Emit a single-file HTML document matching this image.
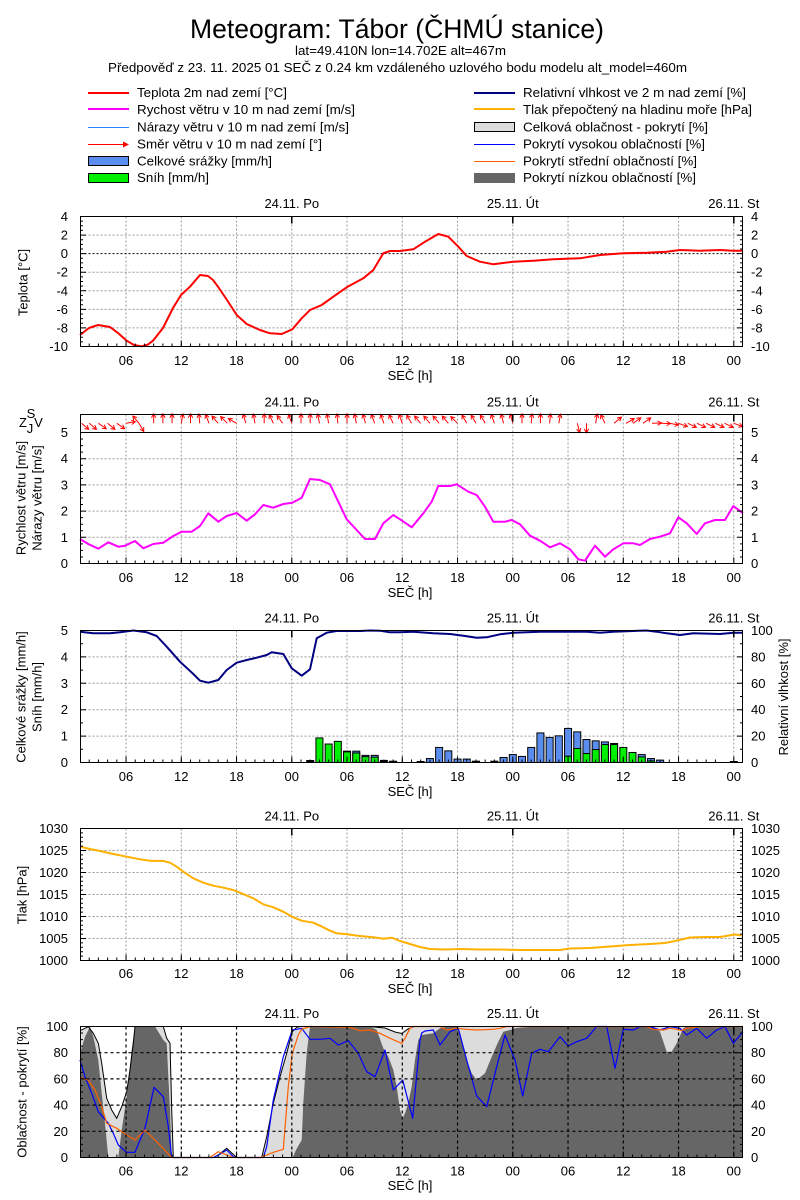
<!DOCTYPE html>
<html><head><meta charset="utf-8">
<style>
html,body{margin:0;padding:0;background:#fff}
svg{display:block}
text{font-family:"Liberation Sans",Arial,sans-serif;font-size:13px;fill:#000}
</style></head>
<body>
<svg width="800" height="1200" viewBox="0 0 800 1200" xmlns="http://www.w3.org/2000/svg" xmlns:xlink="http://www.w3.org/1999/xlink">
<defs>
<path id="xt" d="M89.21 0v-3m9.2083 3v-3m9.2083 3v-3m9.2083 3v-3m9.2083 3v-3m9.2083 3v-3m9.2083 3v-3m9.2083 3v-3m9.2083 3v-3m9.2083 3v-3m9.2083 3v-3m9.2083 3v-3m9.2083 3v-3m9.2083 3v-3m9.2083 3v-3m9.2083 3v-3m9.2083 3v-3m9.2083 3v-3m9.2083 3v-3m9.2083 3v-3m9.2083 3v-3m9.2083 3v-3m9.2083 3v-3m9.2083 3v-3m9.2083 3v-3m9.2083 3v-3m9.2083 3v-3m9.2083 3v-3m9.2083 3v-3m9.2083 3v-3m9.2083 3v-3m9.2083 3v-3m9.2083 3v-3m9.2083 3v-3m9.2083 3v-3m9.2083 3v-3m9.2083 3v-3m9.2083 3v-3m9.2083 3v-3m9.2083 3v-3m9.2083 3v-3m9.2083 3v-3m9.2083 3v-3m9.2083 3v-3m9.2083 3v-3m9.2083 3v-3m9.2083 3v-3m9.2083 3v-3m9.2083 3v-3m9.2083 3v-3m9.2083 3v-3m9.2083 3v-3m9.2083 3v-3m9.2083 3v-3m9.2083 3v-3m9.2083 3v-3m9.2083 3v-3m9.2083 3v-3m9.2083 3v-3m9.2083 3v-3m9.2083 3v-3m9.2083 3v-3m9.2083 3v-3m9.2083 3v-3m9.2083 3v-3m9.2083 3v-3m9.2083 3v-3m9.2083 3v-3m9.2083 3v-3" fill="none" stroke="#000" stroke-width="1"/>
<path id="xT" d="M126.04 0v-6M181.29 0v-6M236.54 0v-6M291.79 0v-6M347.04 0v-6M402.29 0v-6M457.54 0v-6M512.79 0v-6M568.04 0v-6M623.29 0v-6M678.54 0v-6M733.79 0v-6" fill="none" stroke="#000" stroke-width="1"/>
<path id="dt" d="M291.79 0v7M512.79 0v7M733.79 0v7" fill="none" stroke="#000" stroke-width="1.5"/>
<path id="ar" d="M0 0V-9.5M-2.2 -5.6L0 -9.5L2.2 -5.6" fill="none" stroke="#f00" stroke-width="1"/>
<path id="y1" d="M80 221.14h3m-3 4.6429h3m-3 4.6429h3m-3 4.6429h3m-3 4.6429h3m-3 4.6429h3m-3 4.6429h3m-3 4.6429h3m-3 4.6429h3m-3 4.6429h3m-3 4.6429h3m-3 4.6429h3m-3 4.6429h3m-3 4.6429h3m-3 4.6429h3m-3 4.6429h3m-3 4.6429h3m-3 4.6429h3m-3 4.6429h3m-3 4.6429h3m-3 4.6429h3m-3 4.6429h3m-3 4.6429h3m-3 4.6429h3m-3 4.6429h3m-3 4.6429h3m-3 4.6429h3M80 235.07h6M80 253.64h6M80 272.21h6M80 290.79h6M80 309.36h6M80 327.93h6" fill="none" stroke="#000"/>
<path id="y2" d="M80 439.05h3m-3 6.55h3m-3 6.55h3m-3 6.55h3m-3 6.55h3m-3 6.55h3m-3 6.55h3m-3 6.55h3m-3 6.55h3m-3 6.55h3m-3 6.55h3m-3 6.55h3m-3 6.55h3m-3 6.55h3m-3 6.55h3m-3 6.55h3m-3 6.55h3m-3 6.55h3m-3 6.55h3M80 458.7h6M80 484.9h6M80 511.1h6M80 537.3h6" fill="none" stroke="#000"/>
<path id="y3" d="M80 643.7h3m-3 13.2h3m-3 13.2h3m-3 13.2h3m-3 13.2h3m-3 13.2h3m-3 13.2h3m-3 13.2h3m-3 13.2h3M80 656.9h6M80 683.3h6M80 709.7h6M80 736.1h6" fill="none" stroke="#000"/>
<path id="y4" d="M80 832.9h3m-3 4.4h3m-3 4.4h3m-3 4.4h3m-3 4.4h3m-3 4.4h3m-3 4.4h3m-3 4.4h3m-3 4.4h3m-3 4.4h3m-3 4.4h3m-3 4.4h3m-3 4.4h3m-3 4.4h3m-3 4.4h3m-3 4.4h3m-3 4.4h3m-3 4.4h3m-3 4.4h3m-3 4.4h3m-3 4.4h3m-3 4.4h3m-3 4.4h3m-3 4.4h3m-3 4.4h3m-3 4.4h3m-3 4.4h3m-3 4.4h3m-3 4.4h3M80 850.5h6M80 872.5h6M80 894.5h6M80 916.5h6M80 938.5h6" fill="none" stroke="#000"/>
<path id="y5" d="M80 1033.05h3m-3 6.55h3m-3 6.55h3m-3 6.55h3m-3 6.55h3m-3 6.55h3m-3 6.55h3m-3 6.55h3m-3 6.55h3m-3 6.55h3m-3 6.55h3m-3 6.55h3m-3 6.55h3m-3 6.55h3m-3 6.55h3m-3 6.55h3m-3 6.55h3m-3 6.55h3m-3 6.55h3M80 1052.7h6M80 1078.9h6M80 1105.1h6M80 1131.3h6" fill="none" stroke="#000"/>
</defs>

<!-- Header -->
<text x="190" y="38" style="font-size:27px" textLength="414" lengthAdjust="spacingAndGlyphs">Meteogram: Tábor (ČHMÚ stanice)</text>
<text x="295" y="55" textLength="211" lengthAdjust="spacingAndGlyphs">lat=49.410N lon=14.702E alt=467m</text>
<text x="108" y="72" textLength="579" lengthAdjust="spacingAndGlyphs">Předpověď z 23. 11. 2025 01 SEČ z 0.24 km vzdáleného uzlového bodu modelu alt_model=460m</text>

<!-- Legend left -->
<line x1="88" y1="93" x2="129" y2="93" stroke="#f00" stroke-width="2"/>
<text x="137" y="97" textLength="150" lengthAdjust="spacingAndGlyphs">Teplota 2m nad zemí [°C]</text>
<line x1="88" y1="109" x2="129" y2="109" stroke="#f0f" stroke-width="2"/>
<text x="137" y="114" textLength="218" lengthAdjust="spacingAndGlyphs">Rychost větru v 10 m nad zemí [m/s]</text>
<line x1="88" y1="127.5" x2="129" y2="127.5" stroke="#2a7fff" stroke-width="1"/>
<text x="137" y="131.5" textLength="212" lengthAdjust="spacingAndGlyphs">Nárazy větru v 10 m nad zemí [m/s]</text>
<line x1="88" y1="144.5" x2="127" y2="144.5" stroke="#f00" stroke-width="1"/>
<path d="M123 141.5L129 144.5L123 147.5Z" fill="#f00"/>
<text x="137" y="148.5" textLength="185" lengthAdjust="spacingAndGlyphs">Směr větru v 10 m nad zemí [°]</text>
<rect x="88.5" y="156.5" width="40" height="9" fill="#5b8def" stroke="#000"/>
<text x="137" y="165.5" textLength="135" lengthAdjust="spacingAndGlyphs">Celkové srážky [mm/h]</text>
<rect x="88.5" y="173.5" width="40" height="9" fill="#00ee00" stroke="#000"/>
<text x="137" y="182" textLength="72" lengthAdjust="spacingAndGlyphs">Sníh [mm/h]</text>
<!-- Legend right -->
<line x1="474" y1="93" x2="515" y2="93" stroke="#000080" stroke-width="2"/>
<text x="523" y="97" textLength="223" lengthAdjust="spacingAndGlyphs">Relativní vlhkost ve 2 m nad zemí [%]</text>
<line x1="474" y1="109" x2="515" y2="109" stroke="#ffb000" stroke-width="2"/>
<text x="523" y="114" textLength="229" lengthAdjust="spacingAndGlyphs">Tlak přepočtený na hladinu moře [hPa]</text>
<rect x="474.5" y="122.5" width="40" height="9" fill="#dcdcdc" stroke="#000"/>
<text x="523" y="131.5" textLength="185" lengthAdjust="spacingAndGlyphs">Celková oblačnost - pokrytí [%]</text>
<line x1="474" y1="144.5" x2="515" y2="144.5" stroke="#0000ff" stroke-width="1"/>
<text x="523" y="148.5" textLength="182" lengthAdjust="spacingAndGlyphs">Pokrytí vysokou oblačností [%]</text>
<line x1="474" y1="161.5" x2="515" y2="161.5" stroke="#ff6000" stroke-width="1"/>
<text x="523" y="165.5" textLength="174" lengthAdjust="spacingAndGlyphs">Pokrytí střední oblačností [%]</text>
<rect x="474" y="173" width="41" height="10" fill="#666"/>
<text x="523" y="182" textLength="173" lengthAdjust="spacingAndGlyphs">Pokrytí nízkou oblačností [%]</text>

<!-- ============ PANEL 1 ============ -->
<g fill="none" stroke="#999" stroke-width="1" stroke-dasharray="2,2">
<path d="M80.5 235.07H742.5M80.5 272.21H742.5M80.5 290.79H742.5M80.5 309.36H742.5M80.5 327.93H742.5"/>
<path d="M126.04 216.5v130m55.25 -130v130m55.25 -130v130m55.25 -130v130m55.25 -130v130m55.25 -130v130m55.25 -130v130m55.25 -130v130m55.25 -130v130m55.25 -130v130m55.25 -130v130m55.25 -130v130"/>
</g>
<path d="M80.5 253.64H742.5" stroke="#000" stroke-dasharray="2,2" fill="none"/>
<polyline fill="none" stroke="#f00" stroke-width="2" stroke-linejoin="round" points="80,335 89,328 98,325 110,327 118,333 126.7,340.7 134,345 141.7,346.3 148,344.5 153,340.7 163,328 173,308 181,295 190,286.7 200,275 208,276 213,280 218,286.7 227,300 236.7,315 246.7,324 260,330 270,333.3 281.7,334 292.3,329.3 301.7,318.3 310,310 321.7,305 333.3,296.7 346.7,287.3 363.3,278.3 373.3,270 383.3,253.3 390,251 400,251 413.3,249.3 425,241.7 438.3,234 448.3,236.7 458.3,246.7 466.7,256 480,261.7 493.3,264.3 513.3,261.7 533.3,260.7 553.3,259.3 580,258.3 600,255 623.3,253.3 646.7,252.7 666.7,251.7 680,250 700,250.7 720,250 733.3,250.7 743,250.7"/>
<rect x="80.5" y="216.5" width="662" height="130" fill="none" stroke="#000"/>
<use xlink:href="#xt" href="#xt" y="346.5"/>
<use xlink:href="#xT" href="#xT" y="346.5"/>
<use xlink:href="#dt" href="#dt" y="216.5"/>
<use xlink:href="#y1" href="#y1"/>
<use xlink:href="#y1" href="#y1" transform="translate(823 0) scale(-1 1)"/>
<g text-anchor="end"><text x="68" y="221">4</text><text x="68" y="239.6">2</text><text x="68" y="258.1">0</text><text x="68" y="276.7">-2</text><text x="68" y="295.3">-4</text><text x="68" y="313.9">-6</text><text x="68" y="332.4">-8</text><text x="68" y="351">-10</text></g>
<g><text x="751" y="221">4</text><text x="751" y="239.6">2</text><text x="751" y="258.1">0</text><text x="751" y="276.7">-2</text><text x="751" y="295.3">-4</text><text x="751" y="313.9">-6</text><text x="751" y="332.4">-8</text><text x="751" y="351">-10</text></g>
<g text-anchor="middle"><text x="291.79" y="208">24.11. Po</text><text x="512.79" y="208">25.11. Út</text><text x="733.79" y="208">26.11. St</text>
<text x="126.04" y="365">06</text><text x="181.29" y="365">12</text><text x="236.54" y="365">18</text><text x="291.79" y="365">00</text><text x="347.04" y="365">06</text><text x="402.29" y="365">12</text><text x="457.54" y="365">18</text><text x="512.79" y="365">00</text><text x="568.04" y="365">06</text><text x="623.29" y="365">12</text><text x="678.54" y="365">18</text><text x="733.79" y="365">00</text>
<text x="410" y="380">SEČ [h]</text>
<text transform="translate(27.5 282.5) rotate(-90)">Teplota [°C]</text></g>

<!-- ============ PANEL 2 ============ -->
<g fill="none" stroke="#999" stroke-width="1" stroke-dasharray="2,2">
<path d="M80.5 458.7H742.5M80.5 484.9H742.5M80.5 511.1H742.5M80.5 537.3H742.5"/>
<path d="M126.04 414.5v149m55.25 -149v149m55.25 -149v149m55.25 -149v149m55.25 -149v149m55.25 -149v149m55.25 -149v149m55.25 -149v149m55.25 -149v149m55.25 -149v149m55.25 -149v149m55.25 -149v149"/>
</g>
<polyline fill="none" stroke="#f0f" stroke-width="2" stroke-linejoin="round" points="80,539 88.3,544 98.3,548.7 108.3,542.3 118.3,546.7 125,545.7 135,541 143.3,548.3 153.3,544 163.3,542.7 173.3,536 181.7,531.7 191.7,531.7 200,526 208.3,513.3 218.3,521.7 226.7,516 236.7,513 246.7,520.7 255,514.3 263.3,505 273.3,507.7 283.3,504 292.3,502.7 301.7,497.7 310,479 320,480 330,484.3 336.7,498.3 346.7,519.3 356.7,530 365,539 375,539 383.3,523.3 393.3,515 400,519.3 411.7,527.3 423.3,513.3 431.7,501.7 438.3,486 450,486 456.7,484.3 468.3,491.7 476.7,495 485,506.7 493.3,521.7 505,521.7 511.7,520 520,524.3 530,535.7 540,540.7 550,547.3 560,543.3 570,549.3 578.3,559.3 585,560.7 595,545.7 605,556.7 613.3,549.3 623.3,543.3 633.3,543.3 640,545 650,539 660,536.7 670,533.3 678.3,517.3 686.7,523.3 696.7,534 705,523.3 715,520 725,520 733.3,506 743,513.3"/>
<g>
<use href="#ar" xlink:href="#ar" transform="translate(81.5 423.3) rotate(130)"/>
<use href="#ar" xlink:href="#ar" transform="translate(89.21 423.3) rotate(130)"/>
<use href="#ar" xlink:href="#ar" transform="translate(98.42 423.3) rotate(125)"/>
<use href="#ar" xlink:href="#ar" transform="translate(107.63 423.3) rotate(130)"/>
<use href="#ar" xlink:href="#ar" transform="translate(116.83 423.3) rotate(125)"/>
<use href="#ar" xlink:href="#ar" transform="translate(126.04 423.3) rotate(80)"/>
<use href="#ar" xlink:href="#ar" transform="translate(139 423.3) rotate(320)"/>
<use href="#ar" xlink:href="#ar" transform="translate(139 423.3) rotate(150)"/>
<use href="#ar" xlink:href="#ar" transform="translate(153.67 423.3) rotate(0)"/>
<use href="#ar" xlink:href="#ar" transform="translate(162.88 423.3) rotate(0)"/>
<use href="#ar" xlink:href="#ar" transform="translate(172.08 423.3) rotate(0)"/>
<use href="#ar" xlink:href="#ar" transform="translate(181.29 423.3) rotate(10)"/>
<use href="#ar" xlink:href="#ar" transform="translate(190.5 423.3) rotate(0)"/>
<use href="#ar" xlink:href="#ar" transform="translate(199.71 423.3) rotate(355)"/>
<use href="#ar" xlink:href="#ar" transform="translate(208.92 423.3) rotate(340)"/>
<use href="#ar" xlink:href="#ar" transform="translate(218.13 423.3) rotate(320)"/>
<use href="#ar" xlink:href="#ar" transform="translate(227.33 423.3) rotate(315)"/>
<use href="#ar" xlink:href="#ar" transform="translate(236.54 423.3) rotate(300)"/>
<use href="#ar" xlink:href="#ar" transform="translate(245.75 423.3) rotate(345)"/>
<use href="#ar" xlink:href="#ar" transform="translate(254.96 423.3) rotate(350)"/>
<use href="#ar" xlink:href="#ar" transform="translate(264.17 423.3) rotate(0)"/>
<use href="#ar" xlink:href="#ar" transform="translate(273.38 423.3) rotate(335)"/>
<use href="#ar" xlink:href="#ar" transform="translate(282.58 423.3) rotate(325)"/>
<use href="#ar" xlink:href="#ar" transform="translate(291.79 423.3) rotate(340)"/>
<use href="#ar" xlink:href="#ar" transform="translate(301 423.3) rotate(0)"/>
<use href="#ar" xlink:href="#ar" transform="translate(310.21 423.3) rotate(0)"/>
<use href="#ar" xlink:href="#ar" transform="translate(319.42 423.3) rotate(350)"/>
<use href="#ar" xlink:href="#ar" transform="translate(328.63 423.3) rotate(350)"/>
<use href="#ar" xlink:href="#ar" transform="translate(337.83 423.3) rotate(355)"/>
<use href="#ar" xlink:href="#ar" transform="translate(347.04 423.3) rotate(0)"/>
<use href="#ar" xlink:href="#ar" transform="translate(356.25 423.3) rotate(350)"/>
<use href="#ar" xlink:href="#ar" transform="translate(365.46 423.3) rotate(345)"/>
<use href="#ar" xlink:href="#ar" transform="translate(374.67 423.3) rotate(340)"/>
<use href="#ar" xlink:href="#ar" transform="translate(383.88 423.3) rotate(340)"/>
<use href="#ar" xlink:href="#ar" transform="translate(393.08 423.3) rotate(335)"/>
<use href="#ar" xlink:href="#ar" transform="translate(402.29 423.3) rotate(340)"/>
<use href="#ar" xlink:href="#ar" transform="translate(411.5 423.3) rotate(330)"/>
<use href="#ar" xlink:href="#ar" transform="translate(420.71 423.3) rotate(320)"/>
<use href="#ar" xlink:href="#ar" transform="translate(429.92 423.3) rotate(320)"/>
<use href="#ar" xlink:href="#ar" transform="translate(439.13 423.3) rotate(320)"/>
<use href="#ar" xlink:href="#ar" transform="translate(448.33 423.3) rotate(320)"/>
<use href="#ar" xlink:href="#ar" transform="translate(457.54 423.3) rotate(315)"/>
<use href="#ar" xlink:href="#ar" transform="translate(466.75 423.3) rotate(330)"/>
<use href="#ar" xlink:href="#ar" transform="translate(475.96 423.3) rotate(330)"/>
<use href="#ar" xlink:href="#ar" transform="translate(485.17 423.3) rotate(330)"/>
<use href="#ar" xlink:href="#ar" transform="translate(494.38 423.3) rotate(340)"/>
<use href="#ar" xlink:href="#ar" transform="translate(503.58 423.3) rotate(345)"/>
<use href="#ar" xlink:href="#ar" transform="translate(512.79 423.3) rotate(345)"/>
<use href="#ar" xlink:href="#ar" transform="translate(522 423.3) rotate(0)"/>
<use href="#ar" xlink:href="#ar" transform="translate(531.21 423.3) rotate(5)"/>
<use href="#ar" xlink:href="#ar" transform="translate(540.42 423.3) rotate(0)"/>
<use href="#ar" xlink:href="#ar" transform="translate(549.63 423.3) rotate(5)"/>
<use href="#ar" xlink:href="#ar" transform="translate(558.83 423.3) rotate(10)"/>
<use href="#ar" xlink:href="#ar" transform="translate(577.25 423.3) rotate(165)"/>
<use href="#ar" xlink:href="#ar" transform="translate(586.46 423.3) rotate(180)"/>
<use href="#ar" xlink:href="#ar" transform="translate(595.67 423.3) rotate(10)"/>
<use href="#ar" xlink:href="#ar" transform="translate(604.88 423.3) rotate(335)"/>
<use href="#ar" xlink:href="#ar" transform="translate(614.08 423.3) rotate(50)"/>
<use href="#ar" xlink:href="#ar" transform="translate(626 423.3) rotate(60)"/>
<use href="#ar" xlink:href="#ar" transform="translate(633 423.3) rotate(55)"/>
<use href="#ar" xlink:href="#ar" transform="translate(643 423.3) rotate(55)"/>
<use href="#ar" xlink:href="#ar" transform="translate(652 423.3) rotate(88)"/>
<use href="#ar" xlink:href="#ar" transform="translate(661 423.3) rotate(92)"/>
<use href="#ar" xlink:href="#ar" transform="translate(669.33 423.3) rotate(100)"/>
<use href="#ar" xlink:href="#ar" transform="translate(678.54 423.3) rotate(110)"/>
<use href="#ar" xlink:href="#ar" transform="translate(687.75 423.3) rotate(115)"/>
<use href="#ar" xlink:href="#ar" transform="translate(696.96 423.3) rotate(115)"/>
<use href="#ar" xlink:href="#ar" transform="translate(706.17 423.3) rotate(115)"/>
<use href="#ar" xlink:href="#ar" transform="translate(715.38 423.3) rotate(115)"/>
<use href="#ar" xlink:href="#ar" transform="translate(724.58 423.3) rotate(115)"/>
<use href="#ar" xlink:href="#ar" transform="translate(733.79 423.3) rotate(110)"/>
</g>
<rect x="80.5" y="414.5" width="662" height="149" fill="none" stroke="#000"/>
<path d="M80.5 432.5H742.5" stroke="#000" fill="none"/>
<use xlink:href="#xt" href="#xt" y="563.5"/>
<use xlink:href="#xT" href="#xT" y="563.5"/>
<use xlink:href="#dt" href="#dt" y="414.5"/>
<use xlink:href="#y2" href="#y2"/>
<use xlink:href="#y2" href="#y2" transform="translate(823 0) scale(-1 1)"/>
<g style="font-size:10px" text-anchor="middle"><text x="23" y="427">Z</text><text x="31" y="418">S</text><text x="30" y="433">J</text><text x="38.5" y="427">V</text></g>
<g text-anchor="end"><text x="68" y="437">5</text><text x="68" y="463.2">4</text><text x="68" y="489.4">3</text><text x="68" y="515.6">2</text><text x="68" y="541.8">1</text><text x="68" y="568">0</text></g>
<g><text x="751" y="437">5</text><text x="751" y="463.2">4</text><text x="751" y="489.4">3</text><text x="751" y="515.6">2</text><text x="751" y="541.8">1</text><text x="751" y="568">0</text></g>
<g text-anchor="middle"><text x="291.79" y="406.5">24.11. Po</text><text x="512.79" y="406.5">25.11. Út</text><text x="733.79" y="406.5">26.11. St</text>
<text x="126.04" y="582">06</text><text x="181.29" y="582">12</text><text x="236.54" y="582">18</text><text x="291.79" y="582">00</text><text x="347.04" y="582">06</text><text x="402.29" y="582">12</text><text x="457.54" y="582">18</text><text x="512.79" y="582">00</text><text x="568.04" y="582">06</text><text x="623.29" y="582">12</text><text x="678.54" y="582">18</text><text x="733.79" y="582">00</text>
<text x="410" y="597">SEČ [h]</text>
<text transform="translate(25.5 498) rotate(-90)">Rychlost větru [m/s]</text>
<text transform="translate(41.5 498) rotate(-90)">Nárazy větru [m/s]</text></g>

<!-- ============ PANEL 3 ============ -->
<g fill="none" stroke="#999" stroke-width="1" stroke-dasharray="2,2">
<path d="M80.5 656.9H742.5M80.5 683.3H742.5M80.5 709.7H742.5M80.5 736.1H742.5"/>
<path d="M126.04 630.5v132m55.25 -132v132m55.25 -132v132m55.25 -132v132m55.25 -132v132m55.25 -132v132m55.25 -132v132m55.25 -132v132m55.25 -132v132m55.25 -132v132m55.25 -132v132m55.25 -132v132"/>
</g>
<g stroke="#000" stroke-width="1">
<rect x="306.71" y="760.5" width="7" height="2" fill="#000"/>
<rect x="315.92" y="737.95" width="7" height="24.55" fill="#00ee00"/>
<rect x="325.13" y="744.02" width="7" height="18.48" fill="#00ee00"/>
<rect x="334.33" y="741.38" width="7" height="21.12" fill="#00ee00"/>
<rect x="343.54" y="751.15" width="7" height="11.35" fill="#5b8def"/>
<rect x="343.54" y="751.9" width="7" height="10.6" fill="#00ee00"/>
<rect x="352.75" y="751.15" width="7" height="11.35" fill="#5b8def"/>
<rect x="352.75" y="753" width="7" height="9.5" fill="#00ee00"/>
<rect x="361.96" y="755.37" width="7" height="7.13" fill="#5b8def"/>
<rect x="361.96" y="756.69" width="7" height="5.81" fill="#00ee00"/>
<rect x="371.17" y="755.37" width="7" height="7.13" fill="#5b8def"/>
<rect x="371.17" y="757.22" width="7" height="5.28" fill="#00ee00"/>
<rect x="380.38" y="760.39" width="7" height="2.11" fill="#000"/>
<rect x="389.58" y="761.2" width="7" height="1.3" fill="#000"/>
<rect x="417.21" y="761.5" width="7" height="1" fill="#000"/>
<rect x="426.42" y="758.54" width="7" height="3.96" fill="#5b8def"/>
<rect x="435.63" y="747.45" width="7" height="15.05" fill="#5b8def"/>
<rect x="444.83" y="750.88" width="7" height="11.62" fill="#5b8def"/>
<rect x="454.04" y="759.07" width="7" height="3.43" fill="#5b8def"/>
<rect x="463.25" y="759.07" width="7" height="3.43" fill="#5b8def"/>
<rect x="472.46" y="761.2" width="7" height="1.3" fill="#000"/>
<rect x="490.88" y="761.2" width="7" height="1.3" fill="#000"/>
<rect x="500.08" y="757.48" width="7" height="5.02" fill="#5b8def"/>
<rect x="509.29" y="754.58" width="7" height="7.92" fill="#5b8def"/>
<rect x="518.5" y="756.43" width="7" height="6.07" fill="#5b8def"/>
<rect x="527.71" y="747.45" width="7" height="15.05" fill="#5b8def"/>
<rect x="536.92" y="732.93" width="7" height="29.57" fill="#5b8def"/>
<rect x="546.13" y="737.42" width="7" height="25.08" fill="#5b8def"/>
<rect x="555.33" y="735.84" width="7" height="26.66" fill="#5b8def"/>
<rect x="564.54" y="728.44" width="7" height="34.06" fill="#5b8def"/>
<rect x="564.54" y="756.16" width="7" height="6.34" fill="#00ee00"/>
<rect x="573.75" y="731.88" width="7" height="30.62" fill="#5b8def"/>
<rect x="573.75" y="748.51" width="7" height="13.99" fill="#00ee00"/>
<rect x="582.96" y="739.53" width="7" height="22.97" fill="#5b8def"/>
<rect x="582.96" y="753.52" width="7" height="8.98" fill="#00ee00"/>
<rect x="592.17" y="740.85" width="7" height="21.65" fill="#5b8def"/>
<rect x="592.17" y="749.56" width="7" height="12.94" fill="#00ee00"/>
<rect x="601.38" y="741.91" width="7" height="20.59" fill="#5b8def"/>
<rect x="601.38" y="744.55" width="7" height="17.95" fill="#00ee00"/>
<rect x="610.58" y="743.49" width="7" height="19.01" fill="#5b8def"/>
<rect x="610.58" y="744.55" width="7" height="17.95" fill="#00ee00"/>
<rect x="619.79" y="747.45" width="7" height="15.05" fill="#00ee00"/>
<rect x="629" y="752.47" width="7" height="10.03" fill="#00ee00"/>
<rect x="638.21" y="754.58" width="7" height="7.92" fill="#5b8def"/>
<rect x="638.21" y="756.96" width="7" height="5.54" fill="#00ee00"/>
<rect x="647.42" y="758.54" width="7" height="3.96" fill="#5b8def"/>
<rect x="647.42" y="760.92" width="7" height="1.58" fill="#00ee00"/>
<rect x="656.63" y="760.12" width="7" height="2.38" fill="#5b8def"/>
<rect x="730.29" y="761.5" width="7" height="1" fill="#000"/>
</g>
<polyline fill="none" stroke="#000080" stroke-width="2" stroke-linejoin="round" points="80,631.7 93.3,633.3 110,633.3 120,632.3 133.3,630.5 146.7,632.3 156.7,636 166.7,646.7 180,661.7 193.3,674 200,680.7 208.3,682.7 218.3,680 226.7,670 236.7,662.7 246.7,660 256.7,657.7 266.7,655 271.7,652.3 283.3,654 291.7,668.3 301.7,675.7 310,669.3 316.7,638.3 326.7,632.7 336.7,631 360,631 370,630.5 380,630.7 390,632.3 400,632.3 413.3,631.7 433.3,633.3 450,634 463.3,635.7 476.7,637.7 486.7,637.3 500,634.3 513.3,632.7 526.7,632.3 540,631.7 566.7,631.7 586.7,631.7 600,632.7 613.3,631.7 633.3,631 646.7,630.5 656.7,631.7 666.7,633.3 680,635 693.3,633.3 720,634 733.3,632.7 743,632.7"/>
<rect x="80.5" y="630.5" width="662" height="132" fill="none" stroke="#000"/>
<use xlink:href="#xt" href="#xt" y="762.5"/>
<use xlink:href="#xT" href="#xT" y="762.5"/>
<use xlink:href="#dt" href="#dt" y="630.5"/>
<use xlink:href="#y3" href="#y3"/>
<use xlink:href="#y3" href="#y3" transform="translate(823 0) scale(-1 1)"/>
<g text-anchor="end"><text x="68" y="635">5</text><text x="68" y="661.4">4</text><text x="68" y="687.8">3</text><text x="68" y="714.2">2</text><text x="68" y="740.6">1</text><text x="68" y="767">0</text></g>
<g><text x="751" y="635">100</text><text x="751" y="661.4">80</text><text x="751" y="687.8">60</text><text x="751" y="714.2">40</text><text x="751" y="740.6">20</text><text x="751" y="767">0</text></g>
<g text-anchor="middle"><text x="291.79" y="622.5">24.11. Po</text><text x="512.79" y="622.5">25.11. Út</text><text x="733.79" y="622.5">26.11. St</text>
<text x="126.04" y="781">06</text><text x="181.29" y="781">12</text><text x="236.54" y="781">18</text><text x="291.79" y="781">00</text><text x="347.04" y="781">06</text><text x="402.29" y="781">12</text><text x="457.54" y="781">18</text><text x="512.79" y="781">00</text><text x="568.04" y="781">06</text><text x="623.29" y="781">12</text><text x="678.54" y="781">18</text><text x="733.79" y="781">00</text>
<text x="410" y="796">SEČ [h]</text>
<text transform="translate(25.5 697) rotate(-90)">Celkové srážky [mm/h]</text>
<text transform="translate(41.5 697) rotate(-90)">Sníh [mm/h]</text>
<text transform="translate(788 697) rotate(-90)">Relativní vlhkost [%]</text></g>

<!-- ============ PANEL 4 ============ -->
<g fill="none" stroke="#999" stroke-width="1" stroke-dasharray="2,2">
<path d="M80.5 850.5H742.5M80.5 872.5H742.5M80.5 894.5H742.5M80.5 916.5H742.5M80.5 938.5H742.5"/>
<path d="M126.04 828.5v132m55.25 -132v132m55.25 -132v132m55.25 -132v132m55.25 -132v132m55.25 -132v132m55.25 -132v132m55.25 -132v132m55.25 -132v132m55.25 -132v132m55.25 -132v132m55.25 -132v132"/>
</g>
<polyline fill="none" stroke="#ffb000" stroke-width="2" stroke-linejoin="round" points="80,846.7 90,849 100,851 113.3,854 126.7,856.7 140,859.3 150,860.7 163.3,861 170,862.7 176.7,866.7 183.3,871.7 193.3,878.3 203.3,882.7 213.3,885.7 223.3,887.7 233.3,890 240,892.7 253.3,898.3 263.3,904.3 273.3,907.3 283.3,911.7 293.3,917.3 301.7,920.7 313.3,922.7 320,925.7 330,930.7 336.7,933.3 346.7,934.3 360,936 373.3,937.3 383.3,938.7 391.7,937.7 400,941 410,944 420,947 430,949 445,949.5 460,949 480,949.5 500,949.5 520,950 540,950 560,950 570,948.5 590,948 610,946.5 630,945 650,944 665,943 675,941 690,937.5 705,937 720,937 735,934.5 743,935.5"/>
<rect x="80.5" y="828.5" width="662" height="132" fill="none" stroke="#000"/>
<use xlink:href="#xt" href="#xt" y="960.5"/>
<use xlink:href="#xT" href="#xT" y="960.5"/>
<use xlink:href="#dt" href="#dt" y="828.5"/>
<use xlink:href="#y4" href="#y4"/>
<use xlink:href="#y4" href="#y4" transform="translate(823 0) scale(-1 1)"/>
<g text-anchor="end"><text x="68" y="833">1030</text><text x="68" y="855">1025</text><text x="68" y="877">1020</text><text x="68" y="899">1015</text><text x="68" y="921">1010</text><text x="68" y="943">1005</text><text x="68" y="965">1000</text></g>
<g><text x="751" y="833">1030</text><text x="751" y="855">1025</text><text x="751" y="877">1020</text><text x="751" y="899">1015</text><text x="751" y="921">1010</text><text x="751" y="943">1005</text><text x="751" y="965">1000</text></g>
<g text-anchor="middle"><text x="291.79" y="820.5">24.11. Po</text><text x="512.79" y="820.5">25.11. Út</text><text x="733.79" y="820.5">26.11. St</text>
<text x="126.04" y="978">06</text><text x="181.29" y="978">12</text><text x="236.54" y="978">18</text><text x="291.79" y="978">00</text><text x="347.04" y="978">06</text><text x="402.29" y="978">12</text><text x="457.54" y="978">18</text><text x="512.79" y="978">00</text><text x="568.04" y="978">06</text><text x="623.29" y="978">12</text><text x="678.54" y="978">18</text><text x="733.79" y="978">00</text>
<text x="410" y="993">SEČ [h]</text>
<text transform="translate(26.5 895) rotate(-90)">Tlak [hPa]</text></g>

<!-- ============ PANEL 5 ============ -->
<path fill="#dcdcdc" d="M80 1157.5L80 1030.7L88.3 1026.7L93.3 1033.3L98.3 1043.3L101.7 1063.3L106.7 1098.3L111.7 1110L116.7 1118.3L121.7 1106.7L126.7 1091.7L130 1070L133.3 1043.3L135 1026.5L163.3 1026.5L166.7 1038.3L170 1043.3L171.7 1110L173.3 1157.5ZM214 1157.5L218.3 1155L226.7 1148.3L236.7 1157.5ZM261.7 1157.5L266.7 1136.7L273.3 1103.3L280 1076.7L286.7 1053.3L292.3 1031.7L296.7 1027.3L300 1026.5L370 1026.5L385 1028L395 1032L401.7 1033.5L408 1029L414 1026.5L743 1026.5L743 1157.5Z"/>
<path fill="#666" d="M80 1157.5L80 1053.3L85 1036.7L90 1026.7L93.3 1036.7L98.3 1060L101.7 1093.3L105 1123.3L108.3 1157.5ZM118.3 1157.5L121.7 1130L126.7 1096.7L131.7 1050L135 1026.5L155 1026.5L163.3 1040L166.7 1043.3L170 1110L171.7 1157.5ZM292.7 1157.5L296 1150L301.7 1140L303.3 1103L306.7 1053L310 1026.5L370 1026.5L376.7 1030L383.3 1048.3L388.3 1056.7L393.3 1070L396.7 1086.7L400 1110L402.7 1118.3L405 1113.3L408.3 1103.3L411.7 1086.7L415 1060L418.3 1040L421.7 1035L433.3 1033.3L440 1028.3L446.7 1026.5L456.7 1026.5L461.7 1040L466.7 1060L471.7 1073.3L476.7 1080L485 1073.3L491.7 1056.7L498.3 1041.7L503.3 1031.7L510 1030L515 1028.3L533.3 1026.5L653.3 1026.5L660 1031.7L666.7 1051.7L671.7 1051.7L676.7 1043.3L683.3 1028.3L686.7 1026.5L743 1026.5L743 1157.5Z"/>
<path fill="none" stroke="#000" stroke-width="1" d="M80 1030.7L88.3 1026.7L93.3 1033.3L98.3 1043.3L101.7 1063.3L106.7 1098.3L111.7 1110L116.7 1118.3L121.7 1106.7L126.7 1091.7L130 1070L133.3 1043.3L135 1026.5M163.3 1026.5L166.7 1038.3L170 1043.3L171.7 1110L173.3 1157.5M214 1157.5L218.3 1155L226.7 1148.3L236.7 1157.5M261.7 1157.5L266.7 1136.7L273.3 1103.3L280 1076.7L286.7 1053.3L292.3 1031.7L296.7 1027.3L300 1026.5M370 1026.5L385 1028L395 1032L401.7 1033.5L408 1029L414 1026.5"/>
<polyline fill="none" stroke="#0000ff" stroke-width="1.2" stroke-linejoin="round" points="80,1060 85,1076.7 91.7,1093.3 98.3,1111.7 108.3,1123.3 113.3,1133.3 118.3,1145 126.7,1152.3 135,1152.3 145,1128.3 154,1087.3 163.3,1096.7 168.3,1126.7 171.7,1157.5 213.3,1157.5 218.3,1155 226.7,1150 233.3,1156.7 236.7,1157.5 263.3,1157.5 266.7,1146.7 273.3,1100 283.3,1056.7 292.3,1030 296.7,1029.3 301.7,1028.3 310,1039.3 320,1039.3 330,1038.3 338.3,1045 348.3,1040.7 358.3,1053.3 366.7,1071.7 375,1076.7 385,1050 393.3,1090 402.7,1080 412.7,1118.3 420,1040 421.7,1033 425,1031 433.3,1030 440,1045 450,1031.7 458.3,1028.3 466.7,1060 476.7,1096 486.7,1106.7 496.7,1066.7 505,1035 515,1060 522.7,1096 531.7,1053.3 540,1049.3 548.3,1051.7 560,1036.7 568.3,1046 576.7,1041.7 586.7,1038.3 596.7,1026.5 606.7,1026.5 615,1068.3 623.3,1029.3 633.3,1030 640,1026.7 650,1026.7 660,1030 670,1026.7 680,1028.3 686.7,1035 696.7,1028.3 706.7,1038.3 716.7,1030 725,1026.7 733.3,1043.3 743,1031.7"/>
<polyline fill="none" stroke="#ff6000" stroke-width="1.2" stroke-linejoin="round" points="80,1077.7 88.3,1080 95,1090 101.7,1106.7 106.7,1123.3 116.7,1128.3 126.7,1135 135,1140 145,1130 156.7,1141.7 171.7,1157.5 210,1157.5 218.3,1151.7 226.7,1155 233.3,1157.5 260,1157.5 266.7,1155 273.3,1152.3 283.3,1149.3 288.3,1086.7 292.3,1053.3 298.3,1035 301.7,1029.3 310,1026.5 350,1027.3 360,1030.7 370,1030 380,1033.3 390,1038.3 401.7,1043.3 405,1038.3 410,1028.3 413.3,1026.5 440,1026.5 446.7,1030 456.7,1028.3 466.7,1029.3 476.7,1030 493.3,1029.3 500,1028.3 506.7,1026.5 646.7,1026.7 653.3,1029.3 663.3,1030 670,1028.3 676.7,1029.3 681.7,1030.7 686.7,1028.3 700,1026.7 743,1026.5"/>
<g fill="none" stroke="#000" stroke-width="1.2" stroke-dasharray="3,3">
<path d="M80.5 1052.7H742.5M80.5 1078.9H742.5M80.5 1105.1H742.5M80.5 1131.3H742.5"/>
<path d="M126.04 1026.5v131m55.25 -131v131m55.25 -131v131m55.25 -131v131m55.25 -131v131m55.25 -131v131m55.25 -131v131m55.25 -131v131m55.25 -131v131m55.25 -131v131m55.25 -131v131m55.25 -131v131"/>
</g>
<rect x="80.5" y="1026.5" width="662" height="131" fill="none" stroke="#000"/>
<use xlink:href="#xt" href="#xt" y="1157.5"/>
<use xlink:href="#xT" href="#xT" y="1157.5"/>
<use xlink:href="#dt" href="#dt" y="1026.5"/>
<use xlink:href="#y5" href="#y5"/>
<use xlink:href="#y5" href="#y5" transform="translate(823 0) scale(-1 1)"/>
<g text-anchor="end"><text x="68" y="1031">100</text><text x="68" y="1057.2">80</text><text x="68" y="1083.4">60</text><text x="68" y="1109.6">40</text><text x="68" y="1135.8">20</text><text x="68" y="1162">0</text></g>
<g><text x="751" y="1031">100</text><text x="751" y="1057.2">80</text><text x="751" y="1083.4">60</text><text x="751" y="1109.6">40</text><text x="751" y="1135.8">20</text><text x="751" y="1162">0</text></g>
<g text-anchor="middle"><text x="291.79" y="1018">24.11. Po</text><text x="512.79" y="1018">25.11. Út</text><text x="733.79" y="1018">26.11. St</text>
<text x="126.04" y="1175.5">06</text><text x="181.29" y="1175.5">12</text><text x="236.54" y="1175.5">18</text><text x="291.79" y="1175.5">00</text><text x="347.04" y="1175.5">06</text><text x="402.29" y="1175.5">12</text><text x="457.54" y="1175.5">18</text><text x="512.79" y="1175.5">00</text><text x="568.04" y="1175.5">06</text><text x="623.29" y="1175.5">12</text><text x="678.54" y="1175.5">18</text><text x="733.79" y="1175.5">00</text>
<text x="410" y="1190">SEČ [h]</text>
<text transform="translate(26.5 1092) rotate(-90)">Oblačnost - pokrytí [%]</text></g>
</svg>
</body></html>
